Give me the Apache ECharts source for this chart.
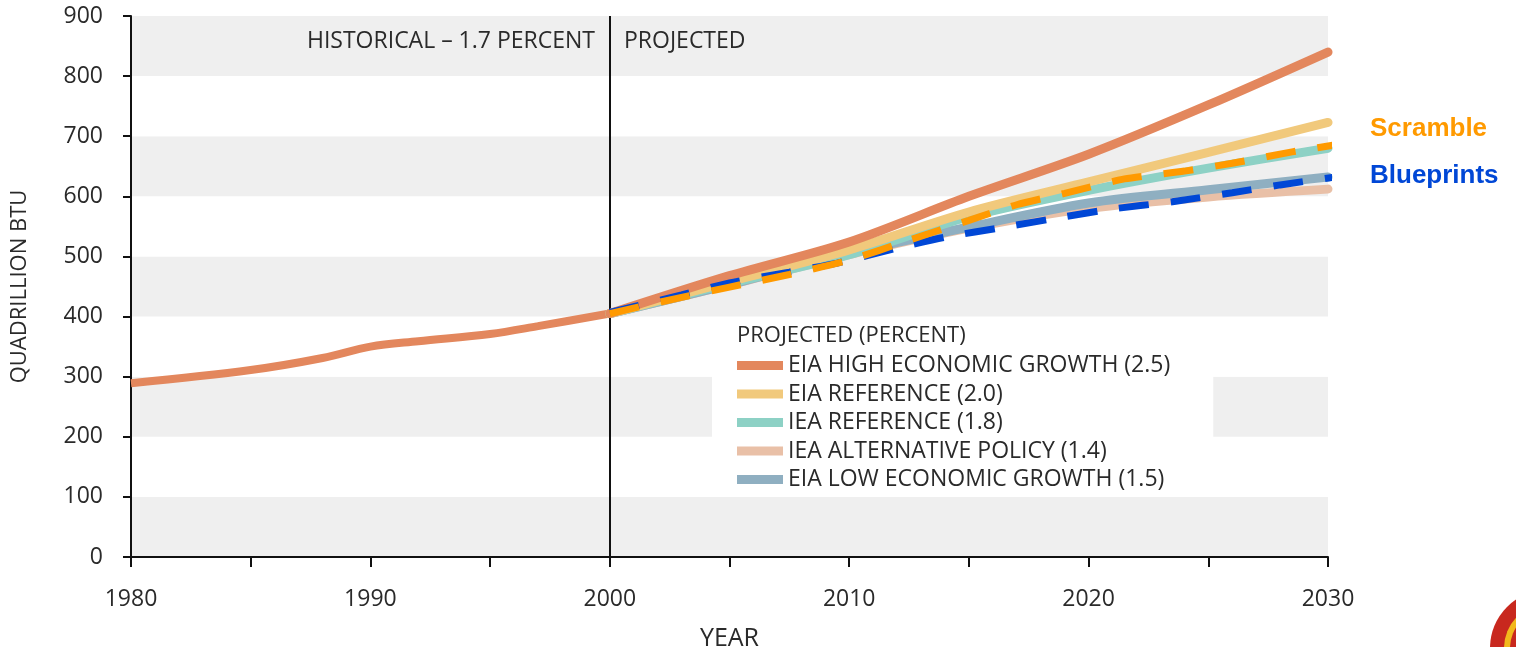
<!DOCTYPE html>
<html>
<head>
<meta charset="utf-8">
<script src="https://cdn.jsdelivr.net/npm/echarts@6/dist/echarts.min.js"></script>
<style>
html,body{margin:0;padding:0;background:#fff;}
#chart{width:1516px;height:647px;}
</style>
</head>
<body>
<div id="chart"></div>
<script>
// ---- data ----
const histYears  = [1980, 1985, 1988, 1990, 1992, 1995, 1997, 2000];
const histValues = [289, 311, 331, 350, 359, 371, 384, 405];

const projYears = [2000, 2005, 2010, 2015, 2020, 2025, 2030];
const eiaHigh   = [405, 468, 524, 600, 670, 752, 840];
const eiaRef    = [405, 458, 511, 574, 624, 673, 723];
const ieaRef    = [405, 455, 503, 566, 610, 647, 680];
const ieaAlt    = [405, 453, 503, 547, 580, 599, 612];
const eiaLow    = [405, 453, 505, 549, 589, 611, 632];

const scrambleYears  = [2000, 2003, 2005, 2007.5, 2010, 2012.5, 2015, 2017, 2019, 2021.5, 2024, 2026, 2028.5, 2031];
const scrambleValues = [405, 432, 449, 470, 494, 527, 560, 586, 605, 629, 642, 655, 674, 690];
const blueprintYears  = [2000, 2003, 2005, 2007.5, 2009.5, 2012, 2014, 2016.5, 2019, 2021, 2023.5, 2026, 2028, 2031];
const blueprintValues = [407, 436, 456, 474, 489, 514, 532, 549, 566, 579, 591, 606, 619, 636];

const yTicks = [0, 100, 200, 300, 400, 500, 600, 700, 800, 900];
const xLabelYears = [1980, 1990, 2000, 2010, 2020, 2030];

const legendNames = [
  'EIA HIGH ECONOMIC GROWTH (2.5)',
  'EIA REFERENCE (2.0)',
  'IEA REFERENCE (1.8)',
  'IEA ALTERNATIVE POLICY (1.4)',
  'EIA LOW ECONOMIC GROWTH (1.5)'
];

const pairs = (xs, ys) => xs.map((x, i) => [x, ys[i]]);

const C = {
  high: '#e3875d',
  ref: '#f1c97c',
  iea: '#8dd1c5',
  alt: '#e9c0a7',
  low: '#8fafc1',
  scramble: '#ff9a00',
  blue: '#0047d6'
};

const FONT = 'Open Sans';
const TXT = '#2a2a2a';

const chart = echarts.init(document.getElementById('chart'));

const solid = (name, data, color, z) => ({
  name, type: 'line', data, smooth: 0.3, symbol: 'none', z,
  lineStyle: { color, width: 9, cap: 'round' },
  itemStyle: { color },
  emphasis: { disabled: true }
});

chart.setOption({
  animation: false,
  backgroundColor: '#fff',
  grid: { left: 131, right: 188, top: 16, bottom: 90, containLabel: false, outerBoundsMode: 'none' },
  xAxis: {
    type: 'value', min: 1980, max: 2030, interval: 5,
    name: 'YEAR', nameLocation: 'middle', nameGap: 69,
    nameTextStyle: { fontFamily: FONT, fontSize: 25, color: TXT },
    axisLine: { show: true, lineStyle: { color: '#111', width: 2 } },
    axisTick: { show: true, length: 10, lineStyle: { color: '#111', width: 2 } },
    axisLabel: {
      margin: 31, fontFamily: FONT, fontSize: 23, color: TXT,
      formatter: v => xLabelYears.includes(v) ? String(v) : ''
    },
    splitLine: { show: false }
  },
  yAxis: {
    type: 'value', min: 0, max: 900, interval: 100,
    name: 'QUADRILLION BTU', nameLocation: 'middle', nameGap: 100, nameRotate: 90,
    nameTextStyle: { fontFamily: FONT, fontSize: 22, color: TXT },
    axisLine: { show: true, lineStyle: { color: '#111', width: 2 } },
    axisTick: { show: true, length: 8, lineStyle: { color: '#111', width: 2 } },
    axisLabel: {
      margin: 28, fontFamily: FONT, fontSize: 23, color: TXT,
      formatter: v => yTicks.includes(v) ? String(v) : ''
    },
    splitLine: { show: false },
    splitArea: { show: true, areaStyle: { color: ['#efefef', '#ffffff'] } }
  },
  legend: {
    data: legendNames,
    orient: 'vertical',
    left: 712, top: 317,
    padding: [37, 43, 6, 25],
    backgroundColor: '#ffffff',
    icon: 'rect', itemWidth: 46, itemHeight: 9, itemGap: 5.5, itemTextGap: 8,
    textStyle: { fontFamily: FONT, fontSize: 23, color: TXT, lineHeight: 23 },
    selectedMode: false
  },
  graphic: [
    { type: 'text', z: 100, x: 737, y: 336,
      style: { text: 'PROJECTED (PERCENT)', font: '22px "Open Sans"', fill: TXT, align: 'left', verticalAlign: 'middle' } },
    { type: 'text', z: 100, x: 595, y: 41,
      style: { text: 'HISTORICAL – 1.7 PERCENT', font: '23px "Open Sans"', fill: TXT, align: 'right', verticalAlign: 'middle' } },
    { type: 'text', z: 100, x: 624, y: 41,
      style: { text: 'PROJECTED', font: '23px "Open Sans"', fill: TXT, align: 'left', verticalAlign: 'middle' } },
    { type: 'circle', z: 100, shape: { cx: 1548, cy: 648, r: 58 }, style: { fill: '#c8281e' } },
    { type: 'circle', z: 101, shape: { cx: 1548, cy: 648, r: 44 }, style: { fill: '#f2b81c' } },
    { type: 'circle', z: 102, shape: { cx: 1548, cy: 648, r: 38 }, style: { fill: '#c8281e' } }
  ],
  series: [
    {
      name: 'Historical', type: 'line', data: pairs(histYears, histValues),
      smooth: 0.35, symbol: 'none', z: 3,
      lineStyle: { color: C.high, width: 8 },
      emphasis: { disabled: true },
      markLine: {
        silent: true, symbol: ['none', 'none'],
        label: { show: false },
        lineStyle: { color: '#111', width: 2, type: 'solid' },
        data: [{ xAxis: 2000 }]
      }
    },
    solid(legendNames[3], pairs(projYears, ieaAlt), C.alt, 2),
    solid(legendNames[4], pairs(projYears, eiaLow), C.low, 3),
    solid(legendNames[2], pairs(projYears, ieaRef), C.iea, 4),
    solid(legendNames[1], pairs(projYears, eiaRef), C.ref, 5),
    solid(legendNames[0], pairs(projYears, eiaHigh), C.high, 6),
    {
      name: 'Blueprints', type: 'line', data: pairs(blueprintYears, blueprintValues),
      smooth: 0.2, symbol: 'none', z: 8, clip: false,
      lineStyle: { color: C.blue, width: 7, type: [30, 22] },
      emphasis: { disabled: true },
      endLabel: { show: true, formatter: 'Blueprints', offset: [30, -2],
        color: C.blue, fontFamily: 'Liberation Sans', fontWeight: 'bold', fontSize: 26 }
    },
    {
      name: 'Scramble', type: 'line', data: pairs(scrambleYears, scrambleValues),
      smooth: 0.2, symbol: 'none', z: 9, clip: false,
      lineStyle: { color: C.scramble, width: 7, type: [30, 22] },
      emphasis: { disabled: true },
      endLabel: { show: true, formatter: 'Scramble', offset: [30, -17],
        color: C.scramble, fontFamily: 'Liberation Sans', fontWeight: 'bold', fontSize: 26 }
    }
  ]
});
</script>
</body>
</html>
